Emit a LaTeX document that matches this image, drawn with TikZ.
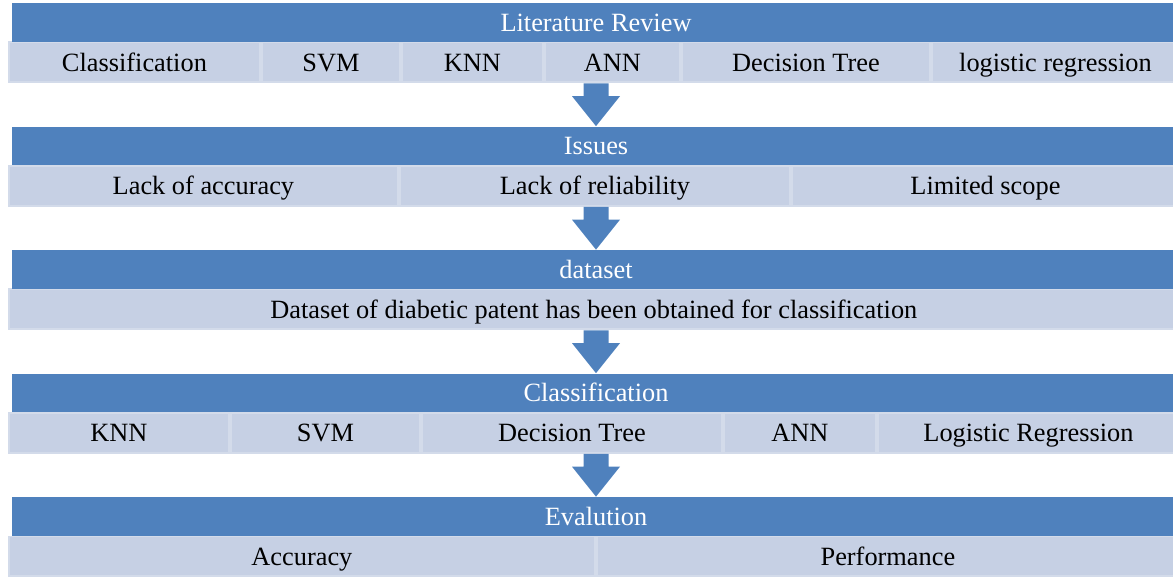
\documentclass[tikz,border=0pt]{standalone}
\usepackage{fontspec}
\setmainfont{Liberation Serif}
\usepackage{xcolor}
\usepackage{tikz}

\definecolor{hdblue}{RGB}{79,129,189}
\definecolor{cellfill}{RGB}{198,208,228}
\definecolor{cellline}{RGB}{211,219,234}

\begin{document}
\begin{tikzpicture}[x=0.02cm, y=-0.02cm,
    hdr/.style={rectangle, fill=hdblue, text=white, minimum width=23.36cm, minimum height=0.78cm, inner sep=0pt},
    cell/.style={rectangle, fill=cellfill, draw=cellline, line width=1.1pt, minimum height=0.8cm, inner sep=0pt, anchor=north west},
    every node/.append style={font=\fontsize{15}{18}\selectfont, text height=9.9pt, text depth=0pt}]
    \useasboundingbox (0,0) rectangle (1173,577);

    % Literature review
    \node[cell, minimum width=5.02cm] (r1-1) at (8,41.5) {Classification};
    \node[cell, minimum width=2.76cm] (r1-2) at (261,41.5) {SVM};
    \node[cell, minimum width=2.82cm] (r1-3) at (401,41.5) {KNN};
    \node[cell, minimum width=2.70cm] (r1-4) at (544,41.5) {ANN};
    \node[cell, minimum width=4.96cm] (r1-5) at (681,41.5) {Decision Tree};
    \node[cell, minimum width=4.94cm] (r1-6) at (931,41.5) {logistic regression};
    \node[hdr] (h1) at (596,22.5) {Literature Review};

    % Issues
    \node[cell, minimum width=7.78cm] (r2-1) at (8,165) {Lack of accuracy};
    \node[cell, minimum width=7.80cm] (r2-2) at (399,165) {Lack of reliability};
    \node[cell, minimum width=7.74cm] (r2-3) at (791,165) {Limited scope};
    \node[hdr] (h2) at (596,146) {Issues};

    % Dataset
    \node[cell, minimum width=23.40cm] (r3-1) at (8,288.5) {Dataset of diabetic patent has been obtained for classification};
    \node[hdr] (h3) at (596,269.5) {dataset};

    % Classification
    \node[cell, minimum width=4.40cm] (r4-1) at (8,412) {KNN};
    \node[cell, minimum width=3.78cm] (r4-2) at (230,412) {SVM};
    \node[cell, minimum width=6.00cm] (r4-3) at (421,412) {Decision Tree};
    \node[cell, minimum width=3.04cm] (r4-4) at (723,412) {ANN};
    \node[cell, minimum width=6.02cm] (r4-5) at (877,412) {Logistic Regression};
    \node[hdr] (h4) at (596,393) {Classification};

    % Evalution
    \node[cell, minimum width=11.72cm] (r5-1) at (8,535.5) {Accuracy};
    \node[cell, minimum width=11.64cm] (r5-2) at (596,535.5) {Performance};
    \node[hdr] (h5) at (596,516.5) {Evalution};

    % Arrows
    \foreach \k/\n in {1/2, 2/3, 3/4, 4/5} {
        \coordinate (s\k) at (h\n.north |- r\k-1.south);
        \fill[hdblue] ([shift={(-12.5,0)}]s\k) -- ([shift={(12.5,0)}]s\k)
            -- ([shift={(12.5,-30)}]h\n.north) -- ([shift={(24,-30)}]h\n.north)
            -- (h\n.north) -- ([shift={(-24,-30)}]h\n.north)
            -- ([shift={(-12.5,-30)}]h\n.north) -- cycle;
    }
\end{tikzpicture}
\end{document}
